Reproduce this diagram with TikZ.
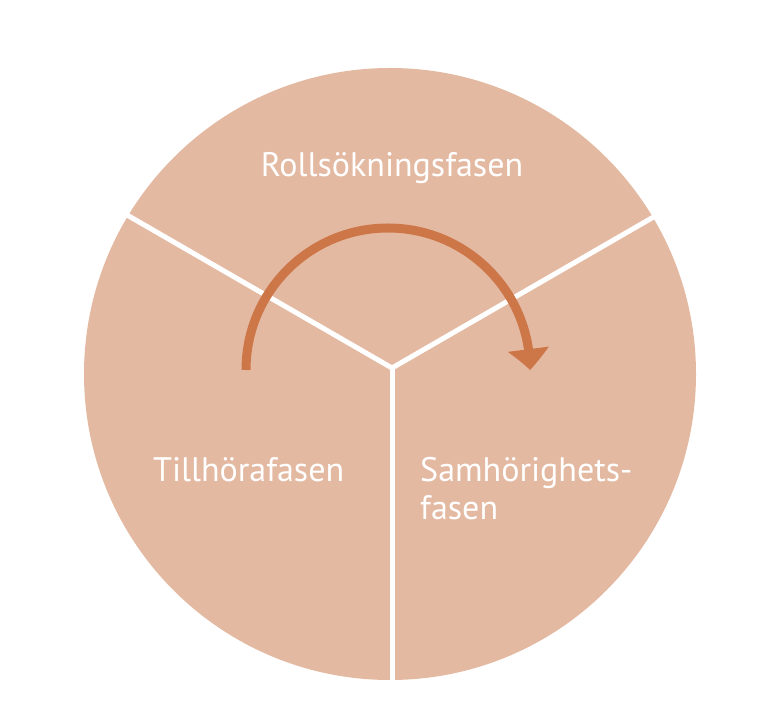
\documentclass[tikz,border=0pt]{standalone}
\usepackage{fontspec}
\setmainfont{PT Sans}
\usetikzlibrary{arrows.meta,bending}
\definecolor{disc}{RGB}{228,185,162}
\definecolor{cyclecol}{RGB}{205,118,72}
\tikzset{phase/.style={text=white,font=\fontsize{34}{38}\selectfont,inner sep=0pt}}
\begin{document}
\begin{tikzpicture}[x=1pt,y=1pt]
    \useasboundingbox (0,0) rectangle (760,715);
    \fill[disc] (390,341) circle (306);
    % the three sectors
    \coordinate (hub) at (392,347);
    \foreach \ang in {150,30,270}
        \draw[white,line width=5pt] (hub) -- ++(\ang:330);
    \node[phase,anchor=base] (roll) at (392,538) {Rollsökningsfasen};
    \node[phase,anchor=base west] (till) at (153,233) {Tillhörafasen};
    \node[phase,anchor=base west,align=left] (samh) at (420,195) {Samhörighets-\\fasen};
    \draw[cyclecol,line width=9pt,-{Triangle[width=40pt,length=21pt,bend]}] (246,345) arc (180:0:142);
\end{tikzpicture}
\end{document}
